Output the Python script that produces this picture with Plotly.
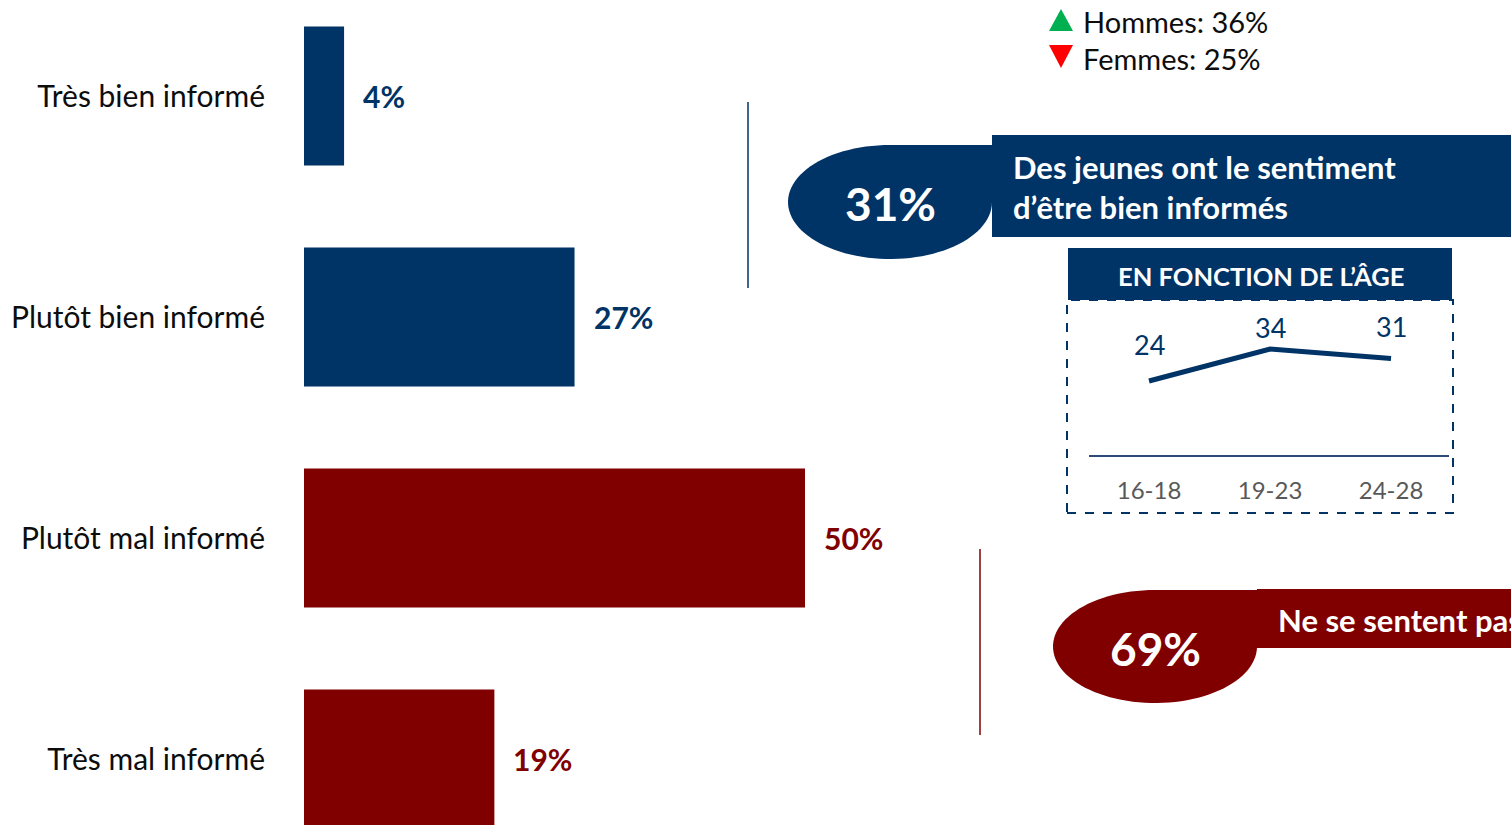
import numpy as np
import plotly.graph_objects as go

# ---------------- data ----------------
categories = ["Très bien informé", "Plutôt bien informé", "Plutôt mal informé", "Très mal informé"]
values = [4, 27, 50, 19]
value_labels = ["4%", "27%", "50%", "19%"]

age_groups = ["16-18", "19-23", "24-28"]
age_values = [24, 34, 31]

gender_labels = ["Hommes: 36%", "Femmes: 25%"]
well_informed_total = "31%"
badly_informed_total = "69%"
well_text = "Des jeunes ont le sentiment<br>d’être bien informés"
badly_text = "Ne se sentent pas bien informés"
inset_title = "EN FONCTION DE L’ÂGE"

# ---------------- style ----------------
W, H = 1511, 825
BLUE = "#003366"
RED = "#800000"
GREEN = "#00B050"
FONT = "Lato"
bar_colors = [BLUE, BLUE, RED, RED]


def px(x):
    return x / W


def py(y):
    return 1 - y / H


def drop_path(x0, y0, x1, y1):
    """ellipse with a square top-right corner, pixel box -> paper path"""
    cx, cy = (x0 + x1) / 2, (y0 + y1) / 2
    rx, ry = (x1 - x0) / 2, (y1 - y0) / 2
    pts = [(x1, y0), (cx, y0)]
    for t in np.linspace(np.pi / 2, 2 * np.pi, 80):
        pts.append((cx + rx * np.cos(t), cy - ry * np.sin(t)))
    d = "M " + " L ".join(f"{px(a):.5f},{py(b):.5f}" for a, b in pts) + " Z"
    return d


fig = go.Figure()

# main bars
fig.add_trace(go.Bar(
    x=values, y=list(range(len(categories))), orientation="h",
    marker=dict(color=bar_colors, line=dict(width=0)),
    width=0.63, hoverinfo="skip", xaxis="x", yaxis="y",
))

# inset line
fig.add_trace(go.Scatter(
    x=list(range(len(age_groups))), y=age_values, mode="lines",
    line=dict(color=BLUE, width=5), xaxis="x2", yaxis="y2", hoverinfo="skip",
))

bar_px_per_pct = 10.02
x_range_max = (W - 304) / bar_px_per_pct
row_px = 221
first_center = 96

fig.update_layout(
    width=W, height=H, margin=dict(l=0, r=0, t=0, b=0),
    paper_bgcolor="white", plot_bgcolor="rgba(0,0,0,0)",
    showlegend=False,
    xaxis=dict(domain=[px(304), 1], range=[0, x_range_max], visible=False, fixedrange=True),
    yaxis=dict(
        domain=[0, 1],
        range=[(H - first_center) / row_px, -first_center / row_px],
        tickvals=list(range(len(categories))), ticktext=categories,
        tickfont=dict(family=FONT, size=30, color="#0D0D0D"),
        ticklabelstandoff=38, showgrid=False, zeroline=False, showline=False, ticks="",
        anchor="x",
    ),
    xaxis2=dict(
        domain=[px(1089), px(1449)], range=[-0.496, 2.479], anchor="y2",
        tickvals=list(range(len(age_groups))), ticktext=age_groups,
        tickfont=dict(family=FONT, size=24, color="#595959"),
        showline=True, linecolor="#2E4A7A", linewidth=1.5,
        showgrid=False, zeroline=False, ticks="", ticklabelstandoff=13,
    ),
    yaxis2=dict(
        domain=[py(455), py(300)], range=[0.875, 0.875 + 155 / 3.2], anchor="x2",
        visible=False,
    ),
)

shapes = []
# vertical separators
shapes.append(dict(type="line", xref="paper", yref="paper", x0=px(748), x1=px(748),
                   y0=py(102), y1=py(288), line=dict(color=BLUE, width=1.5)))
shapes.append(dict(type="line", xref="paper", yref="paper", x0=px(980), x1=px(980),
                   y0=py(549), y1=py(735), line=dict(color=RED, width=1.5)))
# gender triangles
shapes.append(dict(type="path", xref="paper", yref="paper",
                   path=f"M {px(1049)},{py(31)} L {px(1073)},{py(31)} L {px(1061)},{py(9)} Z",
                   fillcolor=GREEN, line=dict(width=0)))
shapes.append(dict(type="path", xref="paper", yref="paper",
                   path=f"M {px(1049)},{py(45)} L {px(1073)},{py(45)} L {px(1061)},{py(68)} Z",
                   fillcolor="#FF0000", line=dict(width=0)))
# blue badge
shapes.append(dict(type="path", xref="paper", yref="paper", path=drop_path(788, 145, 992, 259),
                   fillcolor=BLUE, line=dict(width=0)))
shapes.append(dict(type="rect", xref="paper", yref="paper", x0=px(992), x1=px(1520),
                   y0=py(237), y1=py(135), fillcolor=BLUE, line=dict(width=0)))
# inset frame
shapes.append(dict(type="rect", xref="paper", yref="paper", x0=px(1067), x1=px(1453),
                   y0=py(513), y1=py(300), fillcolor="rgba(0,0,0,0)",
                   line=dict(color=BLUE, width=2, dash="dash")))
shapes.append(dict(type="rect", xref="paper", yref="paper", x0=px(1068), x1=px(1452),
                   y0=py(300), y1=py(248), fillcolor=BLUE, line=dict(width=0)))
# red badge
shapes.append(dict(type="path", xref="paper", yref="paper", path=drop_path(1053, 590, 1257, 703),
                   fillcolor=RED, line=dict(width=0)))
shapes.append(dict(type="rect", xref="paper", yref="paper", x0=px(1257), x1=px(1520),
                   y0=py(648), y1=py(589), fillcolor=RED, line=dict(width=0)))
fig.update_layout(shapes=shapes)

ann = []
# bar value labels
for i, (v, lab) in enumerate(zip(values, value_labels)):
    ann.append(dict(x=v, y=i, xref="x", yref="y", text=f"<b>{lab}</b>", showarrow=False,
                    xanchor="left", yanchor="middle", xshift=17,
                    font=dict(family=FONT, size=30, color=bar_colors[i])))
# gender
for lab, yy in zip(gender_labels, [21, 58]):
    ann.append(dict(x=px(1081), y=py(yy), xref="paper", yref="paper", text=lab, showarrow=False,
                    xanchor="left", yanchor="middle", font=dict(family=FONT, size=29, color="#0D0D0D")))
# badges
ann.append(dict(x=px(890), y=py(203), xref="paper", yref="paper", text=f"<b>{well_informed_total}</b>",
                showarrow=False, xanchor="center", yanchor="middle",
                font=dict(family=FONT, size=46, color="white")))
ann.append(dict(x=px(1011), y=py(187), xref="paper", yref="paper", text=f"<b>{well_text}</b>",
                showarrow=False, xanchor="left", yanchor="middle", align="left",
                font=dict(family=FONT, size=31, color="white")))
ann.append(dict(x=px(1155), y=py(648), xref="paper", yref="paper", text=f"<b>{badly_informed_total}</b>",
                showarrow=False, xanchor="center", yanchor="middle",
                font=dict(family=FONT, size=46, color="white")))
ann.append(dict(x=px(1276), y=py(620), xref="paper", yref="paper", text=f"<b>{badly_text}</b>",
                showarrow=False, xanchor="left", yanchor="middle", align="left",
                font=dict(family=FONT, size=31, color="white")))
ann.append(dict(x=px(1261), y=py(276), xref="paper", yref="paper", text=f"<b>{inset_title}</b>",
                showarrow=False, xanchor="center", yanchor="middle",
                font=dict(family=FONT, size=25.5, color="white")))
# inset value labels
label_lift = [37, 22, 32]
for i, v in enumerate(age_values):
    ann.append(dict(x=i, y=v, xref="x2", yref="y2", text=str(v), showarrow=False,
                    xanchor="center", yanchor="middle", yshift=label_lift[i],
                    font=dict(family=FONT, size=27, color=BLUE)))
fig.update_layout(annotations=ann)

fig.write_html("out.html", config={"displayModeBar": False},
               post_script="document.body.style.margin='0';document.body.style.overflow='hidden';")
